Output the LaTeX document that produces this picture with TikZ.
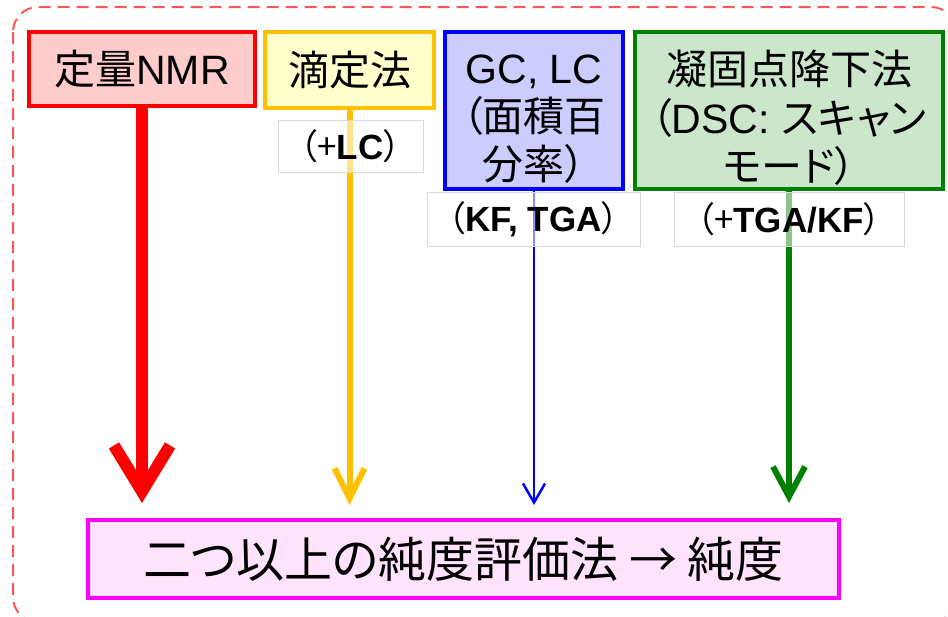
\documentclass[tikz,border=0pt]{standalone}
\usepackage{fontspec}
\setmainfont{Liberation Sans}
\newfontfamily\jp{Noto Sans CJK JP}[RawFeature=+palt]
\usetikzlibrary{arrows.meta}
\definecolor{dashred}{RGB}{255,85,85}
\definecolor{redfill}{RGB}{255,204,204}
\definecolor{yelline}{RGB}{255,192,0}
\definecolor{yelfill}{RGB}{255,255,204}
\definecolor{bluefill}{RGB}{204,204,255}
\definecolor{grnline}{RGB}{0,128,0}
\definecolor{grnfill}{RGB}{204,230,204}
\definecolor{magline}{RGB}{255,0,255}
\definecolor{magfill}{RGB}{255,226,252}
\definecolor{lblgray}{RGB}{217,217,217}
\tikzset{
  topbox/.style={draw, line width=4pt, inner sep=0pt, align=center,
    font=\fontsize{41}{44}\selectfont},
  lbl/.style={draw=lblgray, line width=0.8pt, fill=white, fill opacity=0.55,
    text opacity=1, inner sep=0pt, font=\fontsize{35}{40}\selectfont},
  conn/.style={line cap=butt},
}
\newcommand{\threelines}[3]{\raisebox{0pt}[\dimexpr\height+12pt\relax][\dimexpr\depth-12pt\relax]{\begin{tabular}{@{}c@{}}#1\\#2\\#3\end{tabular}}}
\begin{document}
\begin{tikzpicture}[x=1pt,y=-1pt]
\useasboundingbox (0,0) rectangle (948,616);
\clip (0,0) rectangle (948,616);
\draw[dashred, line width=2pt, dash pattern=on 12pt off 7pt, rounded corners=25pt]
  (13,7) rectangle (956,622);

\node[topbox, draw=red, fill=redfill, minimum width=226pt, minimum height=74pt]
  (nmr) at (142,69) {{\jp 定量}NMR};
\node[topbox, draw=yelline, fill=yelfill, minimum width=169pt, minimum height=76pt]
  (tit) at (349.5,70) {\jp 滴定法};
\node[topbox, draw=blue, fill=bluefill, minimum width=178pt, minimum height=157pt]
  (gc) at (534,110.5) {\threelines{GC, LC}{\jp （面積百}{\jp 分率）}};
\node[topbox, draw=grnline, fill=grnfill, minimum width=308pt, minimum height=157pt]
  (fp) at (789,110.5) {\threelines{\jp 凝固点降下法}{{\jp （}DSC: {\jp スキャン}}{\jp モード）}};
\node[draw=magline, fill=magfill, line width=4pt, minimum width=751pt, minimum height=78pt,
  inner sep=0pt, font=\fontsize{48}{54}\selectfont]
  (res) at (463.5,559) {\jp 二つ以上の純度評価法 → 純度};

\draw[conn, red, line width=12pt, -{Straight Barb[length=46pt, width=56pt]}, shorten >=15pt]
  (nmr.south) -- (nmr.south |- res.north);
\draw[conn, yelline, line width=6pt, -{Straight Barb[length=30pt, width=30pt]}, shorten >=13pt]
  (tit.south) -- (tit.south |- res.north);
\draw[conn, blue, line width=2.5pt, -{Straight Barb[length=19pt, width=22pt]}, shorten >=13pt]
  (gc.south) -- (gc.south |- res.north);
\draw[conn, grnline, line width=6pt, -{Straight Barb[length=30pt, width=32pt]}, shorten >=15pt]
  (fp.south) -- (fp.south |- res.north);

\node[lbl, minimum width=145pt, minimum height=52pt] (l1) at (350.5,146)
  {{\jp （+}\textbf{LC}{\jp ）}};
\node[lbl, minimum width=213pt, minimum height=54pt] (l2) at (533.5,219)
  {{\jp （}\textbf{KF, TGA}{\jp ）}};
\node[lbl, minimum width=230pt, minimum height=54pt] (l3) at (789,219)
  {{\jp （+}\textbf{TGA/KF}{\jp ）}};
\end{tikzpicture}
\end{document}
